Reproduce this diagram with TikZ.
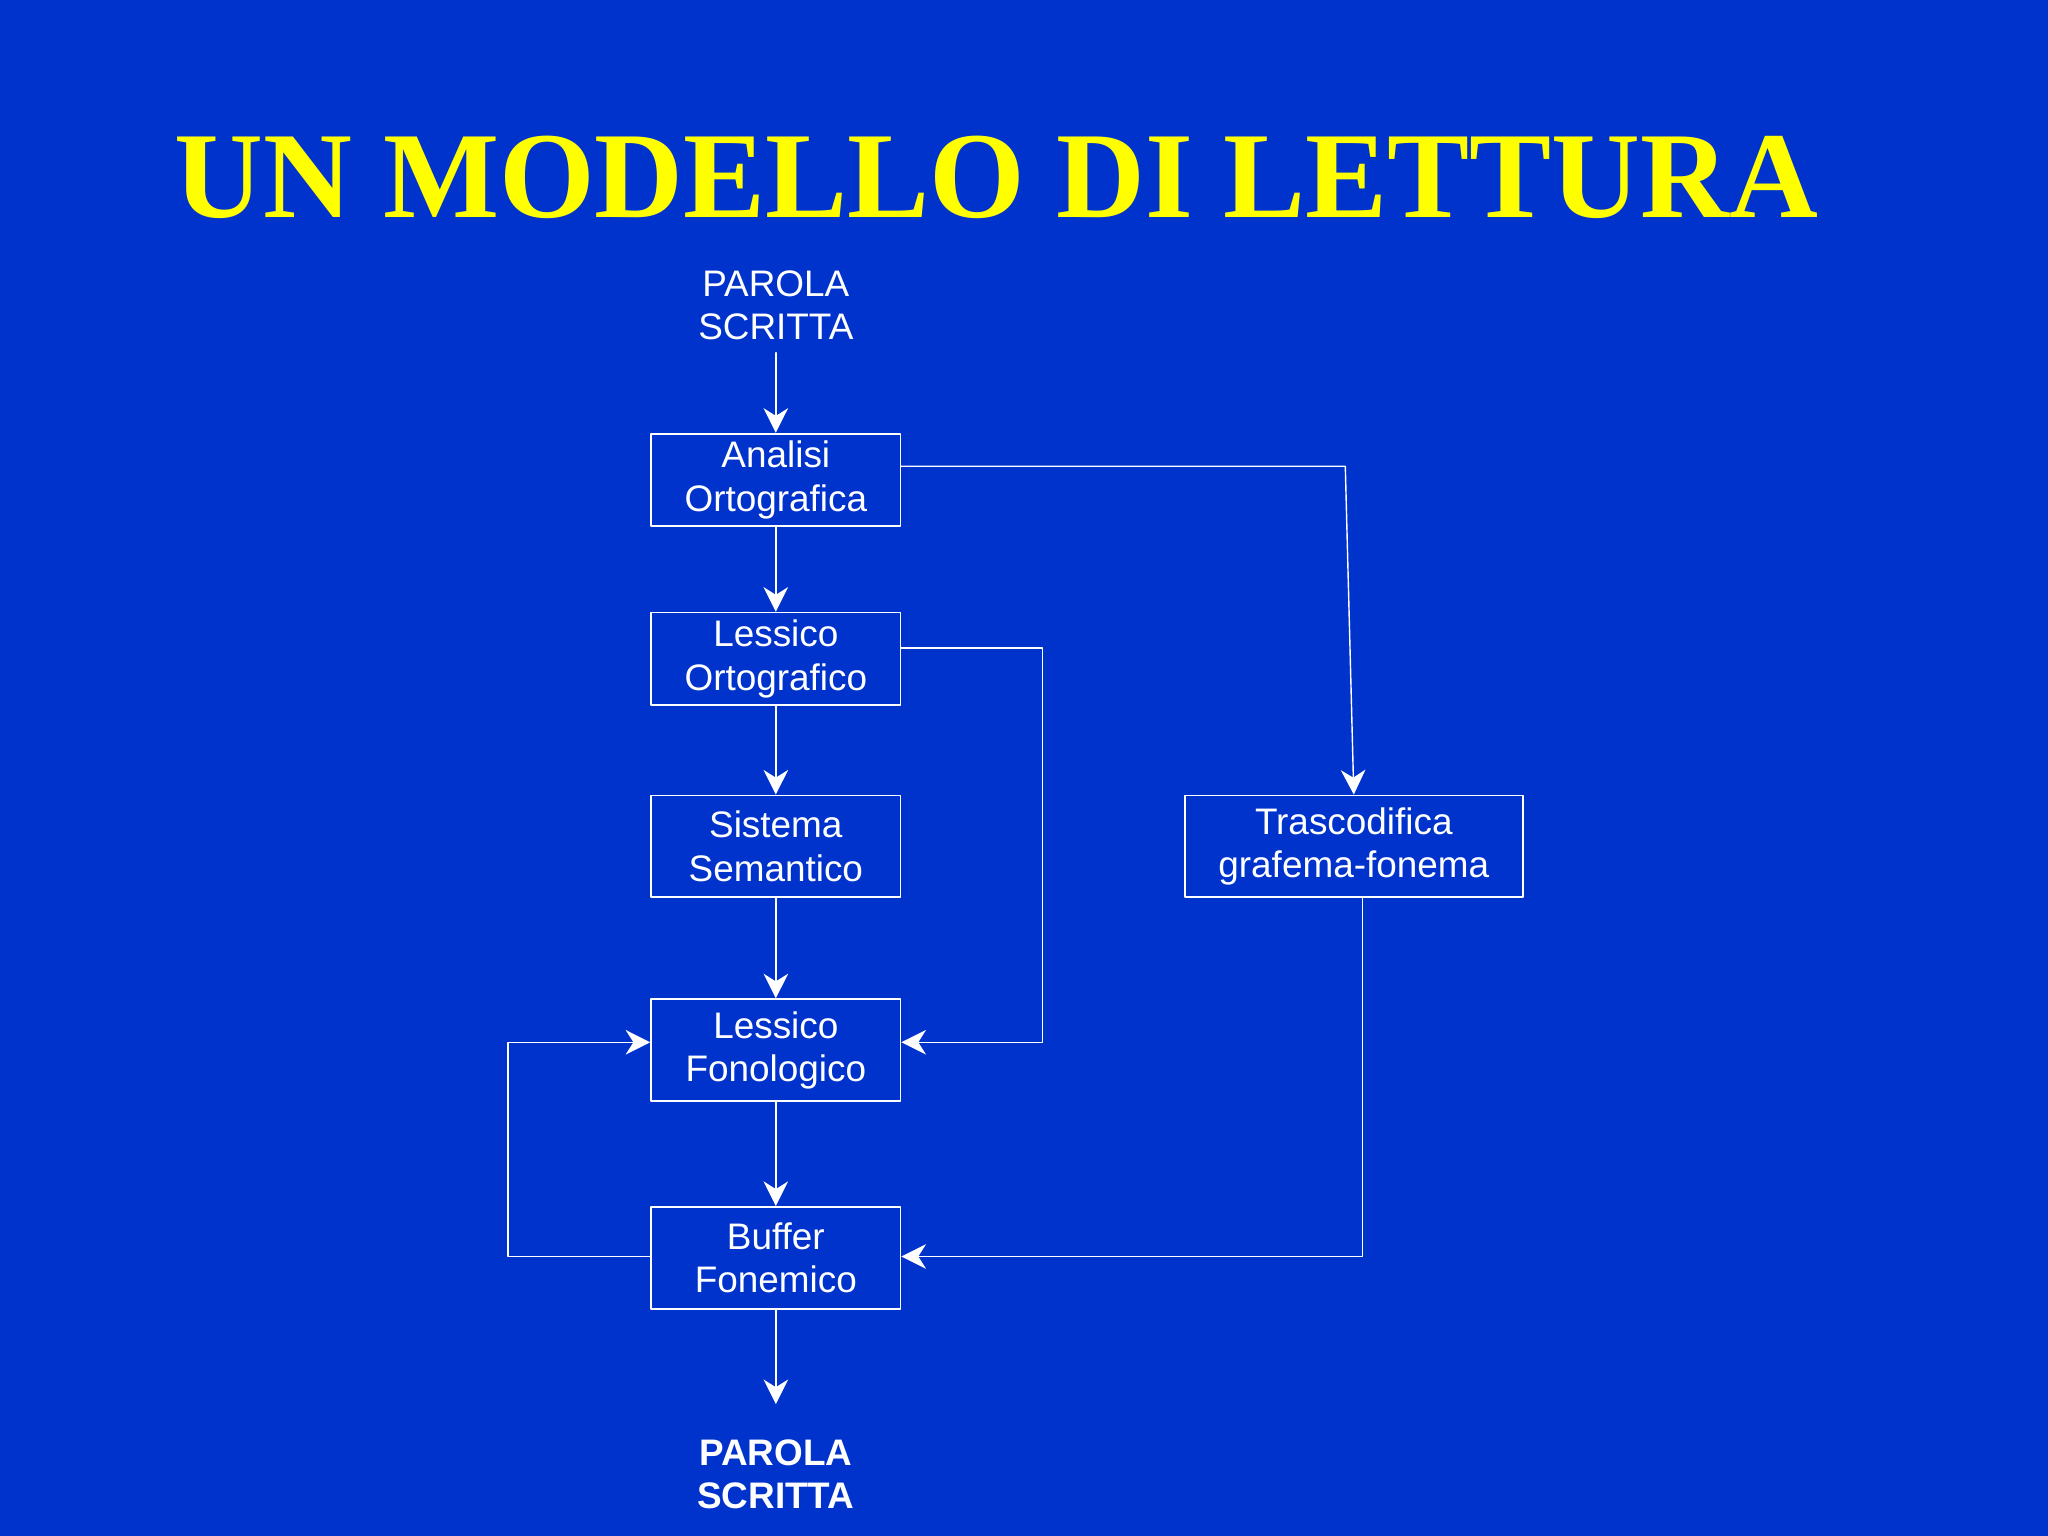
\documentclass[tikz,border=0pt]{standalone}
\usepackage{fontspec}
\setmainfont{Liberation Serif}
\newfontfamily\boxfont{Liberation Sans}
\usetikzlibrary{arrows.meta,positioning}
\definecolor{slideblue}{RGB}{0,51,204}
\definecolor{titleyellow}{RGB}{255,255,0}
\tikzset{
  blocco/.style={draw=white,line width=0.5pt,minimum width=2.494cm,align=center,text=white,font=\boxfont\fontsize{10.5}{12.3}\selectfont,inner sep=0pt},
  testo/.style={align=center,text=white,font=\boxfont\fontsize{10.5}{12.3}\selectfont},
  freccia/.style={draw=white,line width=0.4pt,-{Stealth[inset=2.2pt,length=7pt,width=7pt]}},
  linea/.style={draw=white,line width=0.4pt}
}
\begin{document}
\begin{tikzpicture}[line cap=round,line join=round,x=0.01306cm,y=-0.01306cm]
  \fill [slideblue] (0,0) rectangle (1568,1176);
  \useasboundingbox (0,0) rectangle (1568,1176);
  \node [text=titleyellow,font=\bfseries\fontsize{35}{40}\selectfont] (titolo) at (763,136) {UN MODELLO DI LETTURA};
  \node [testo] (parola) at (594,234) {PAROLA\\SCRITTA};
  \node [blocco,minimum height=0.927cm] (analisi) at (594,367.5) {Analisi\\Ortografica};
  \node [blocco,minimum height=0.927cm] (lessort) at (594,504.5) {Lessico\\Ortografico};
  \node [blocco,minimum height=1.019cm] (sistema) at (594,648) {Sistema\\Semantico};
  \node [blocco,minimum height=1.019cm] (lessfon) at (594,804) {Lessico\\Fonologico};
  \node [blocco,minimum height=1.019cm] (buffer) at (594,963) {Buffer\\Fonemico};
  \node [blocco,minimum height=1.019cm,minimum width=3.383cm] (trasc) at (1036.5,648) {Trascodifica\\grafema-fonema};
  \node [testo,font=\boxfont\bfseries\fontsize{10.5}{12.3}\selectfont] (uscita) at (594,1129) {PAROLA\\SCRITTA};
  \coordinate (a1) at (1030,357);
  \coordinate (b1) at (798,496);
  \coordinate (b2) at (798,798);
  \coordinate (c1) at (1043,962);
  \coordinate (d1) at (389,962);
  \coordinate (d2) at (389,798);
  \coordinate (fine) at (594,1075);
  \draw [freccia] (parola.south) -- (analisi.north);
  \draw [freccia] (analisi.south) -- (lessort.north);
  \draw [freccia] (lessort.south) -- (sistema.north);
  \draw [freccia] (sistema.south) -- (lessfon.north);
  \draw [freccia] (lessfon.south) -- (buffer.north);
  \draw [freccia] (buffer.south) -- (fine);
  \draw [freccia] (analisi.east |- a1) -- (a1) -- (trasc.north);
  \draw [freccia] (lessort.east |- b1) -- (b1) -- (b2) -- (lessfon.east |- b2);
  \draw [freccia] (trasc.south -| c1) -- (c1) -- (buffer.east |- c1);
  \draw [freccia] (buffer.west |- d1) -- (d1) -- (d2) -- (lessfon.west |- d2);
\end{tikzpicture}
\end{document}
